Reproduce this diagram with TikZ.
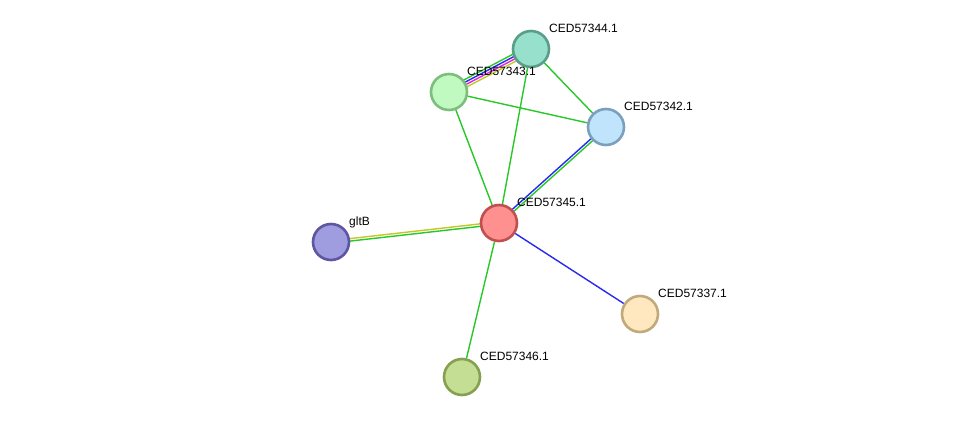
\documentclass[tikz,border=0pt]{standalone}
\usepackage{fontspec}
\setmainfont{Liberation Sans}
\usetikzlibrary{calc,backgrounds}
\definecolor{egreen}{RGB}{40,200,40}
\definecolor{eblue}{RGB}{40,40,240}
\definecolor{emag}{RGB}{220,40,220}
\definecolor{eyel}{RGB}{195,200,40}
\tikzset{
  prot/.style={circle,minimum size=36pt,inner sep=0pt,line width=2.6pt},
  lab/.style={anchor=base west,font=\fontsize{12pt}{14pt}\selectfont,inner sep=0pt},
  edge/.style={line width=1.4pt},
}
\newcommand{\pedge}[4]{\draw[edge,#4] ($(#1)!#3!90:(#2)$) -- ($(#2)!#3!-90:(#1)$);}
\begin{document}
\begin{tikzpicture}[x=1pt,y=1pt]
\useasboundingbox (0,0) rectangle (975,423);
% nodes (y = 423 - pixel y)
\node[prot,fill={rgb,255:red,150;green,224;blue,204},draw={rgb,255:red,90;green,158;blue,138}] (n44) at (531,374) {};
\node[prot,fill={rgb,255:red,192;green,250;blue,192},draw={rgb,255:red,124;green,190;blue,124}] (n43) at (449,331) {};
\node[prot,fill={rgb,255:red,192;green,228;blue,252},draw={rgb,255:red,122;green,160;blue,190}] (n42) at (606,296) {};
\node[prot,fill={rgb,255:red,255;green,144;blue,144},draw={rgb,255:red,192;green,80;blue,80}] (n45) at (499,200) {};
\node[prot,fill={rgb,255:red,160;green,156;blue,224},draw={rgb,255:red,94;green,86;blue,160}] (gltB) at (331,181) {};
\node[prot,fill={rgb,255:red,255;green,232;blue,192},draw={rgb,255:red,192;green,170;blue,122}] (n37) at (640,109) {};
\node[prot,fill={rgb,255:red,196;green,222;blue,148},draw={rgb,255:red,132;green,160;blue,80}] (n46) at (462,46) {};
% labels
\node[lab] (l44) at ($(n44)+(18,16.5)$) {CED57344.1};
\node[lab] (l43) at ($(n43)+(18,16.5)$) {CED57343.1};
\node[lab] (l42) at ($(n42)+(18,16.5)$) {CED57342.1};
\node[lab] (l45) at ($(n45)+(18,16.5)$) {CED57345.1};
\node[lab] (lgltB) at ($(gltB)+(18,16.5)$) {gltB};
\node[lab] (l37) at ($(n37)+(18,16.5)$) {CED57337.1};
\node[lab] (l46) at ($(n46)+(18,16.5)$) {CED57346.1};
\begin{scope}[on background layer]
\pedge{n43}{n44}{3.75pt}{egreen}
\pedge{n43}{n44}{1.25pt}{eblue}
\pedge{n43}{n44}{-1.25pt}{emag}
\pedge{n43}{n44}{-3.75pt}{eyel}
\pedge{n45}{n42}{1.25pt}{eblue}
\pedge{n45}{n42}{-1.25pt}{egreen}
\pedge{gltB}{n45}{1.25pt}{eyel}
\pedge{gltB}{n45}{-1.25pt}{egreen}
\draw[edge,egreen] (n43) -- (n42);
\draw[edge,egreen] (n44) -- (n42);
\draw[edge,egreen] (n45) -- (n43);
\draw[edge,egreen] (n45) -- (n44);
\draw[edge,egreen] (n45) -- (n46);
\draw[edge,eblue] (n45) -- (n37);
\end{scope}
\end{tikzpicture}
\end{document}
